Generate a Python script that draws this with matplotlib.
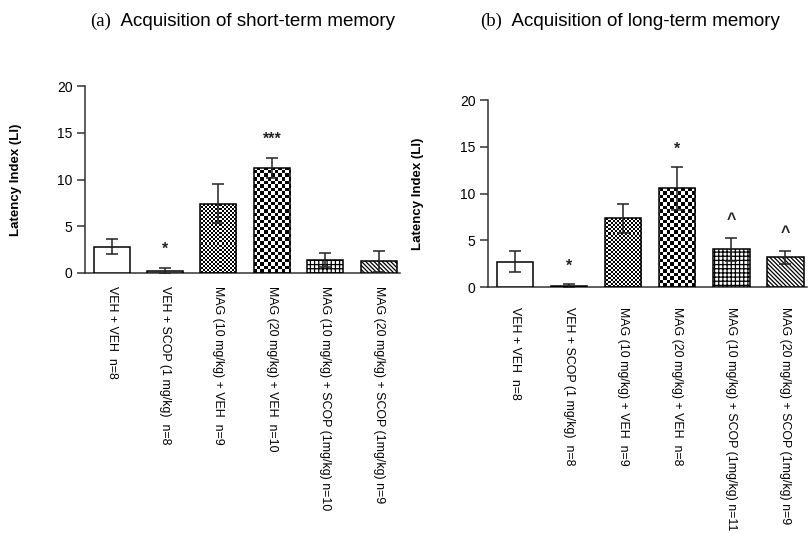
import numpy as np
import matplotlib
matplotlib.use('Agg')
import matplotlib.pyplot as plt

# data
groups_a = ['VEH + VEH  n=8', 'VEH + SCOP (1 mg/kg)  n=8', 'MAG (10 mg/kg) + VEH  n=9',
            'MAG (20 mg/kg) + VEH  n=10', 'MAG (10 mg/kg) + SCOP (1mg/kg) n=10',
            'MAG (20 mg/kg) + SCOP (1mg/kg) n=9']
mean_a = [2.8, 0.2, 7.4, 11.25, 1.35, 1.25]
sem_a = [0.8, 0.35, 2.1, 1.05, 0.75, 1.1]
marks_a = ['', '*', '', '***', '', '']

groups_b = ['VEH + VEH  n=8', 'VEH + SCOP (1 mg/kg)  n=8', 'MAG (10 mg/kg) + VEH  n=9',
            'MAG (20 mg/kg) + VEH  n=8', 'MAG (10 mg/kg) + SCOP (1mg/kg) n=11',
            'MAG (20 mg/kg) + SCOP (1mg/kg) n=9']
mean_b = [2.75, 0.1, 7.35, 10.55, 4.05, 3.2]
sem_b = [1.15, 0.2, 1.5, 2.25, 1.2, 0.7]
marks_b = ['', '*', '', '*', '^', '^']

# fill style per group: (kind, arg)
fills = [('plain', 'white'), ('plain', '#d4d4d4'), ('checker', 2.0),
         ('checker', 3.5), ('hatch', '++++'), ('hatch', '\\' * 8)]

plt.rcParams['font.family'] = ['Liberation Sans', 'DejaVu Sans']
plt.rcParams['hatch.linewidth'] = 0.9


def checker(ax, bar, cell_px):
    bb = ax.get_window_extent()
    nx = int(bb.width / cell_px)
    ny = int(bb.height / cell_px)
    img = np.add.outer(np.arange(ny), np.arange(nx)) % 2
    xl, yl = ax.get_xlim(), ax.get_ylim()
    im = ax.imshow(img, cmap='gray', vmin=0, vmax=1, extent=(xl[0], xl[1], yl[0], yl[1]),
                   aspect='auto', interpolation='nearest', origin='lower', zorder=2)
    im.set_clip_path(bar)
    ax.set_xlim(xl)
    ax.set_ylim(yl)


def panel(ax, labels, means, errs, marks, pad):
    x = np.arange(len(means))
    ax.set_xlim(-0.5, len(means) - 0.6)
    ax.set_ylim(0, 20)
    bars = ax.bar(x, means, width=0.675, color='white', edgecolor='black',
                  linewidth=1.1, zorder=3)
    for b, (kind, arg) in zip(bars, fills):
        if kind == 'plain':
            b.set_facecolor(arg)
        elif kind == 'hatch':
            b.set_hatch(arg)
        else:
            b.set_facecolor('none')
            checker(ax, b, arg)
    ax.errorbar(x, means, yerr=errs, fmt='none', ecolor='#222222', elinewidth=1.1,
                capsize=4.5, capthick=1.1, zorder=5)
    for xi, m, e, s in zip(x, means, errs, marks):
        if s:
            ax.text(xi, m + e + 1.95, s, ha='center', va='center', fontsize=11.5,
                    fontweight='bold', color='#222222')
    for sp in ['top', 'right']:
        ax.spines[sp].set_visible(False)
    for sp in ['left', 'bottom']:
        ax.spines[sp].set_linewidth(1.1)
        ax.spines[sp].set_color('#333333')
    ax.set_yticks([0, 5, 10, 15, 20])
    ax.tick_params(axis='y', length=6, width=1.1, color='#333333', labelsize=10, pad=3)
    ax.set_xticks(x)
    ax.set_xticklabels(labels, rotation=270, ha='center', va='top', fontsize=8.9)
    ax.tick_params(axis='x', length=0, pad=pad)
    ax.set_ylabel('Latency Index (LI)', fontsize=9.5, fontweight='bold')
    ax.yaxis.set_label_coords(-0.2, 0.5)


fig = plt.figure(figsize=(8.09, 5.33), dpi=100)
ax1 = fig.add_axes([85 / 809, 1 - 273 / 533, 315 / 809, 187 / 533])
ax2 = fig.add_axes([488 / 809, 1 - 287.3 / 533, 319 / 809, 187.3 / 533])

panel(ax1, groups_a, mean_a, sem_a, marks_a, 9)
panel(ax2, groups_b, mean_b, sem_b, marks_b, 14)

# panel titles: serif letter followed by sans text
for x0, letter, title in [(90 / 809, '(a)', 'Acquisition of short-term memory'),
                          (480 / 809, '(b)', 'Acquisition of long-term memory')]:
    t = fig.text(x0, 1 - 21 / 533, letter, family='Liberation Serif', fontsize=13.5,
                 ha='left', va='center')
    ax1.annotate('  ' + title, xy=(1, 0.5), xycoords=t, ha='left', va='center',
                 fontsize=13.5, annotation_clip=False)

fig.savefig('out.png', dpi=100)
